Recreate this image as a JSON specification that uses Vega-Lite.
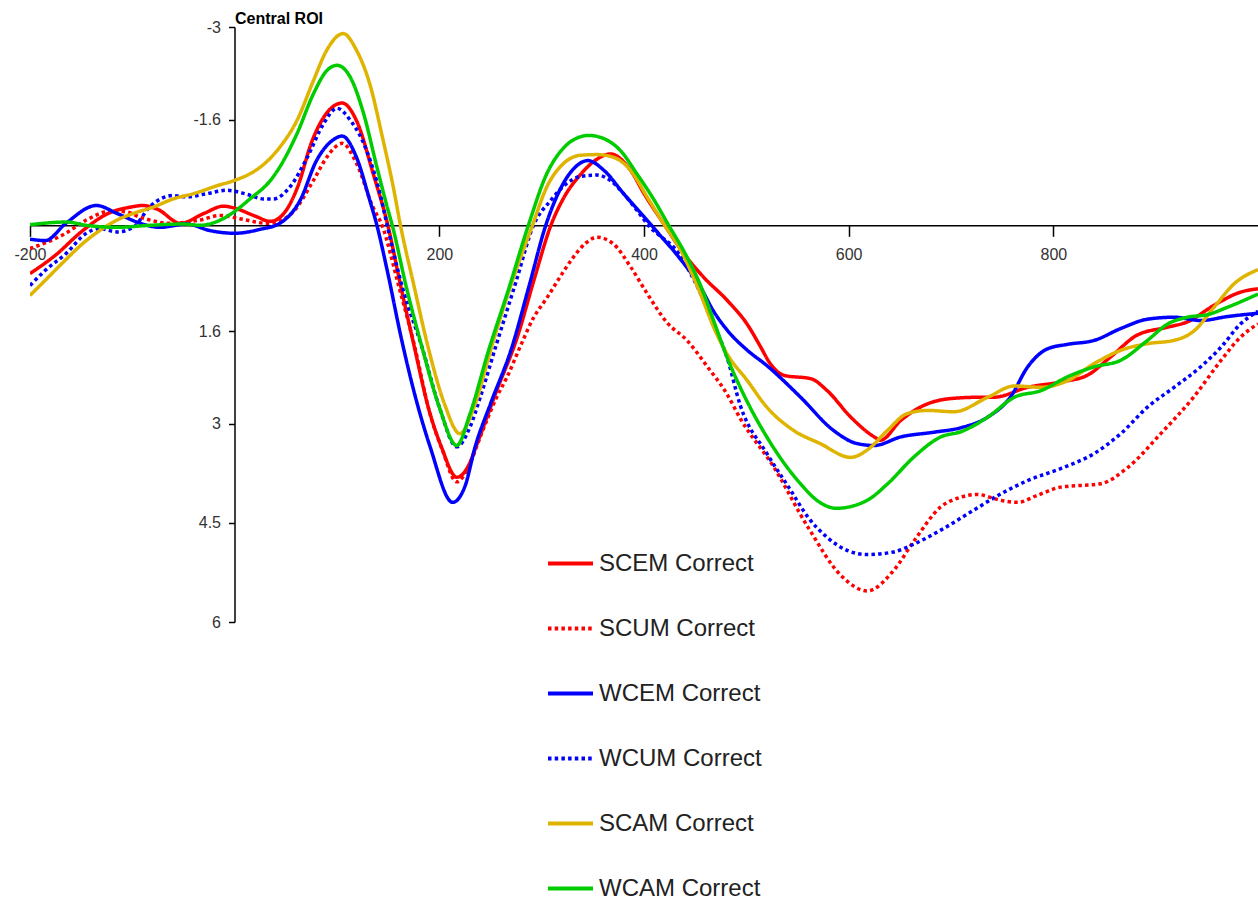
{
  "$schema": "https://vega.github.io/schema/vega-lite/v6.json",
  "width": 1228,
  "height": 595,
  "autosize": {"type": "none"},
  "padding": {"left": 30, "top": 27, "right": 0, "bottom": 279},
  "background": "white",
  "config": {"view": {"stroke": null}, "font": "Liberation Sans"},
  "datasets": {
    "erp": [
      {"c":"SCEM Correct","ms":-200,"uV":0.73},{"c":"SCEM Correct","ms":-175,"uV":0.45},{"c":"SCEM Correct","ms":-150,"uV":0.1},{"c":"SCEM Correct","ms":-125,"uV":-0.17},{"c":"SCEM Correct","ms":-100,"uV":-0.28},{"c":"SCEM Correct","ms":-90,"uV":-0.3},{"c":"SCEM Correct","ms":-75,"uV":-0.24},{"c":"SCEM Correct","ms":-53,"uV":-0.03},{"c":"SCEM Correct","ms":-30,"uV":-0.18},{"c":"SCEM Correct","ms":-11,"uV":-0.29},{"c":"SCEM Correct","ms":0,"uV":-0.26},{"c":"SCEM Correct","ms":20,"uV":-0.14},{"c":"SCEM Correct","ms":35,"uV":-0.06},{"c":"SCEM Correct","ms":50,"uV":-0.22},{"c":"SCEM Correct","ms":62,"uV":-0.6},{"c":"SCEM Correct","ms":75,"uV":-1.25},{"c":"SCEM Correct","ms":90,"uV":-1.7},{"c":"SCEM Correct","ms":105,"uV":-1.85},{"c":"SCEM Correct","ms":120,"uV":-1.55},{"c":"SCEM Correct","ms":135,"uV":-0.8},{"c":"SCEM Correct","ms":150,"uV":0.02},{"c":"SCEM Correct","ms":162,"uV":0.9},{"c":"SCEM Correct","ms":175,"uV":1.8},{"c":"SCEM Correct","ms":190,"uV":2.8},{"c":"SCEM Correct","ms":202,"uV":3.35},{"c":"SCEM Correct","ms":217,"uV":3.81},{"c":"SCEM Correct","ms":228,"uV":3.65},{"c":"SCEM Correct","ms":237,"uV":3.3},{"c":"SCEM Correct","ms":256,"uV":2.5},{"c":"SCEM Correct","ms":276,"uV":1.7},{"c":"SCEM Correct","ms":293,"uV":0.8},{"c":"SCEM Correct","ms":309,"uV":0.0},{"c":"SCEM Correct","ms":321,"uV":-0.4},{"c":"SCEM Correct","ms":338,"uV":-0.77},{"c":"SCEM Correct","ms":354,"uV":-1.0},{"c":"SCEM Correct","ms":367,"uV":-1.08},{"c":"SCEM Correct","ms":387,"uV":-0.83},{"c":"SCEM Correct","ms":400,"uV":-0.48},{"c":"SCEM Correct","ms":419,"uV":-0.03},{"c":"SCEM Correct","ms":439,"uV":0.43},{"c":"SCEM Correct","ms":458,"uV":0.78},{"c":"SCEM Correct","ms":481,"uV":1.13},{"c":"SCEM Correct","ms":501,"uV":1.5},{"c":"SCEM Correct","ms":514,"uV":1.84},{"c":"SCEM Correct","ms":522,"uV":2.06},{"c":"SCEM Correct","ms":537,"uV":2.27},{"c":"SCEM Correct","ms":563,"uV":2.32},{"c":"SCEM Correct","ms":579,"uV":2.5},{"c":"SCEM Correct","ms":602,"uV":2.9},{"c":"SCEM Correct","ms":625,"uV":3.2},{"c":"SCEM Correct","ms":631,"uV":3.25},{"c":"SCEM Correct","ms":651,"uV":2.95},{"c":"SCEM Correct","ms":670,"uV":2.75},{"c":"SCEM Correct","ms":700,"uV":2.62},{"c":"SCEM Correct","ms":729,"uV":2.6},{"c":"SCEM Correct","ms":742,"uV":2.6},{"c":"SCEM Correct","ms":775,"uV":2.45},{"c":"SCEM Correct","ms":807,"uV":2.37},{"c":"SCEM Correct","ms":833,"uV":2.27},{"c":"SCEM Correct","ms":856,"uV":1.99},{"c":"SCEM Correct","ms":882,"uV":1.66},{"c":"SCEM Correct","ms":912,"uV":1.54},{"c":"SCEM Correct","ms":931,"uV":1.46},{"c":"SCEM Correct","ms":957,"uV":1.21},{"c":"SCEM Correct","ms":983,"uV":1.01},{"c":"SCEM Correct","ms":1000,"uV":0.96},

      {"c":"SCUM Correct","ms":-200,"uV":0.35},{"c":"SCUM Correct","ms":-165,"uV":0.12},{"c":"SCUM Correct","ms":-145,"uV":-0.08},{"c":"SCUM Correct","ms":-120,"uV":-0.22},{"c":"SCUM Correct","ms":-105,"uV":-0.2},{"c":"SCUM Correct","ms":-92,"uV":-0.12},{"c":"SCUM Correct","ms":-80,"uV":-0.07},{"c":"SCUM Correct","ms":-66,"uV":-0.03},{"c":"SCUM Correct","ms":-34,"uV":-0.08},{"c":"SCUM Correct","ms":-14,"uV":-0.15},{"c":"SCUM Correct","ms":5,"uV":-0.1},{"c":"SCUM Correct","ms":32,"uV":-0.03},{"c":"SCUM Correct","ms":45,"uV":-0.07},{"c":"SCUM Correct","ms":57,"uV":-0.2},{"c":"SCUM Correct","ms":77,"uV":-0.68},{"c":"SCUM Correct","ms":90,"uV":-1.03},{"c":"SCUM Correct","ms":105,"uV":-1.24},{"c":"SCUM Correct","ms":119,"uV":-0.94},{"c":"SCUM Correct","ms":135,"uV":-0.28},{"c":"SCUM Correct","ms":144,"uV":0.0},{"c":"SCUM Correct","ms":160,"uV":0.9},{"c":"SCUM Correct","ms":176,"uV":1.84},{"c":"SCUM Correct","ms":190,"uV":2.8},{"c":"SCUM Correct","ms":203,"uV":3.4},{"c":"SCUM Correct","ms":217,"uV":3.88},{"c":"SCUM Correct","ms":230,"uV":3.6},{"c":"SCUM Correct","ms":240,"uV":3.2},{"c":"SCUM Correct","ms":256,"uV":2.6},{"c":"SCUM Correct","ms":266,"uV":2.3},{"c":"SCUM Correct","ms":280,"uV":1.8},{"c":"SCUM Correct","ms":292,"uV":1.4},{"c":"SCUM Correct","ms":305,"uV":1.1},{"c":"SCUM Correct","ms":318,"uV":0.78},{"c":"SCUM Correct","ms":331,"uV":0.48},{"c":"SCUM Correct","ms":343,"uV":0.27},{"c":"SCUM Correct","ms":354,"uV":0.18},{"c":"SCUM Correct","ms":370,"uV":0.28},{"c":"SCUM Correct","ms":387,"uV":0.63},{"c":"SCUM Correct","ms":403,"uV":1.03},{"c":"SCUM Correct","ms":423,"uV":1.48},{"c":"SCUM Correct","ms":442,"uV":1.74},{"c":"SCUM Correct","ms":462,"uV":2.14},{"c":"SCUM Correct","ms":481,"uV":2.55},{"c":"SCUM Correct","ms":494,"uV":2.92},{"c":"SCUM Correct","ms":527,"uV":3.66},{"c":"SCUM Correct","ms":560,"uV":4.56},{"c":"SCUM Correct","ms":594,"uV":5.32},{"c":"SCUM Correct","ms":618,"uV":5.53},{"c":"SCUM Correct","ms":644,"uV":5.22},{"c":"SCUM Correct","ms":664,"uV":4.77},{"c":"SCUM Correct","ms":690,"uV":4.26},{"c":"SCUM Correct","ms":710,"uV":4.11},{"c":"SCUM Correct","ms":725,"uV":4.07},{"c":"SCUM Correct","ms":749,"uV":4.16},{"c":"SCUM Correct","ms":765,"uV":4.19},{"c":"SCUM Correct","ms":785,"uV":4.08},{"c":"SCUM Correct","ms":807,"uV":3.96},{"c":"SCUM Correct","ms":846,"uV":3.91},{"c":"SCUM Correct","ms":873,"uV":3.66},{"c":"SCUM Correct","ms":905,"uV":3.15},{"c":"SCUM Correct","ms":937,"uV":2.6},{"c":"SCUM Correct","ms":964,"uV":2.04},{"c":"SCUM Correct","ms":983,"uV":1.69},{"c":"SCUM Correct","ms":1000,"uV":1.49},

      {"c":"WCEM Correct","ms":-200,"uV":0.21},{"c":"WCEM Correct","ms":-185,"uV":0.23},{"c":"WCEM Correct","ms":-165,"uV":-0.03},{"c":"WCEM Correct","ms":-135,"uV":-0.3},{"c":"WCEM Correct","ms":-115,"uV":-0.18},{"c":"WCEM Correct","ms":-92,"uV":-0.03},{"c":"WCEM Correct","ms":-73,"uV":0.03},{"c":"WCEM Correct","ms":-47,"uV":-0.02},{"c":"WCEM Correct","ms":-24,"uV":0.08},{"c":"WCEM Correct","ms":0,"uV":0.12},{"c":"WCEM Correct","ms":25,"uV":0.06},{"c":"WCEM Correct","ms":44,"uV":-0.03},{"c":"WCEM Correct","ms":64,"uV":-0.38},{"c":"WCEM Correct","ms":80,"uV":-0.98},{"c":"WCEM Correct","ms":96,"uV":-1.29},{"c":"WCEM Correct","ms":105,"uV":-1.35},{"c":"WCEM Correct","ms":119,"uV":-1.03},{"c":"WCEM Correct","ms":132,"uV":-0.38},{"c":"WCEM Correct","ms":139,"uV":0.0},{"c":"WCEM Correct","ms":150,"uV":0.75},{"c":"WCEM Correct","ms":162,"uV":1.65},{"c":"WCEM Correct","ms":175,"uV":2.5},{"c":"WCEM Correct","ms":191,"uV":3.35},{"c":"WCEM Correct","ms":213,"uV":4.19},{"c":"WCEM Correct","ms":225,"uV":3.95},{"c":"WCEM Correct","ms":235,"uV":3.35},{"c":"WCEM Correct","ms":250,"uV":2.7},{"c":"WCEM Correct","ms":271,"uV":1.84},{"c":"WCEM Correct","ms":288,"uV":0.9},{"c":"WCEM Correct","ms":304,"uV":0.0},{"c":"WCEM Correct","ms":321,"uV":-0.63},{"c":"WCEM Correct","ms":335,"uV":-0.91},{"c":"WCEM Correct","ms":345,"uV":-0.98},{"c":"WCEM Correct","ms":361,"uV":-0.83},{"c":"WCEM Correct","ms":380,"uV":-0.48},{"c":"WCEM Correct","ms":400,"uV":-0.13},{"c":"WCEM Correct","ms":414,"uV":0.12},{"c":"WCEM Correct","ms":434,"uV":0.48},{"c":"WCEM Correct","ms":455,"uV":0.93},{"c":"WCEM Correct","ms":468,"uV":1.3},{"c":"WCEM Correct","ms":481,"uV":1.58},{"c":"WCEM Correct","ms":501,"uV":1.89},{"c":"WCEM Correct","ms":520,"uV":2.12},{"c":"WCEM Correct","ms":553,"uV":2.6},{"c":"WCEM Correct","ms":585,"uV":3.1},{"c":"WCEM Correct","ms":608,"uV":3.3},{"c":"WCEM Correct","ms":625,"uV":3.33},{"c":"WCEM Correct","ms":651,"uV":3.2},{"c":"WCEM Correct","ms":683,"uV":3.13},{"c":"WCEM Correct","ms":710,"uV":3.06},{"c":"WCEM Correct","ms":736,"uV":2.9},{"c":"WCEM Correct","ms":758,"uV":2.6},{"c":"WCEM Correct","ms":775,"uV":2.14},{"c":"WCEM Correct","ms":794,"uV":1.87},{"c":"WCEM Correct","ms":814,"uV":1.8},{"c":"WCEM Correct","ms":840,"uV":1.74},{"c":"WCEM Correct","ms":866,"uV":1.56},{"c":"WCEM Correct","ms":892,"uV":1.42},{"c":"WCEM Correct","ms":918,"uV":1.39},{"c":"WCEM Correct","ms":944,"uV":1.44},{"c":"WCEM Correct","ms":970,"uV":1.38},{"c":"WCEM Correct","ms":1000,"uV":1.33},

      {"c":"WCUM Correct","ms":-200,"uV":0.91},{"c":"WCUM Correct","ms":-185,"uV":0.68},{"c":"WCUM Correct","ms":-165,"uV":0.43},{"c":"WCUM Correct","ms":-145,"uV":0.12},{"c":"WCUM Correct","ms":-132,"uV":0.05},{"c":"WCUM Correct","ms":-115,"uV":0.1},{"c":"WCUM Correct","ms":-99,"uV":0.03},{"c":"WCUM Correct","ms":-83,"uV":-0.28},{"c":"WCUM Correct","ms":-60,"uV":-0.45},{"c":"WCUM Correct","ms":-47,"uV":-0.43},{"c":"WCUM Correct","ms":-27,"uV":-0.48},{"c":"WCUM Correct","ms":-8,"uV":-0.53},{"c":"WCUM Correct","ms":12,"uV":-0.47},{"c":"WCUM Correct","ms":28,"uV":-0.4},{"c":"WCUM Correct","ms":38,"uV":-0.4},{"c":"WCUM Correct","ms":54,"uV":-0.58},{"c":"WCUM Correct","ms":71,"uV":-1.03},{"c":"WCUM Correct","ms":87,"uV":-1.54},{"c":"WCUM Correct","ms":100,"uV":-1.77},{"c":"WCUM Correct","ms":113,"uV":-1.59},{"c":"WCUM Correct","ms":129,"uV":-1.13},{"c":"WCUM Correct","ms":142,"uV":-0.48},{"c":"WCUM Correct","ms":149,"uV":0.0},{"c":"WCUM Correct","ms":165,"uV":1.0},{"c":"WCUM Correct","ms":183,"uV":1.84},{"c":"WCUM Correct","ms":200,"uV":2.75},{"c":"WCUM Correct","ms":217,"uV":3.35},{"c":"WCUM Correct","ms":230,"uV":3.05},{"c":"WCUM Correct","ms":240,"uV":2.6},{"c":"WCUM Correct","ms":255,"uV":1.84},{"c":"WCUM Correct","ms":275,"uV":0.85},{"c":"WCUM Correct","ms":292,"uV":0.0},{"c":"WCUM Correct","ms":309,"uV":-0.38},{"c":"WCUM Correct","ms":322,"uV":-0.6},{"c":"WCUM Correct","ms":338,"uV":-0.74},{"c":"WCUM Correct","ms":354,"uV":-0.76},{"c":"WCUM Correct","ms":367,"uV":-0.68},{"c":"WCUM Correct","ms":380,"uV":-0.48},{"c":"WCUM Correct","ms":393,"uV":-0.23},{"c":"WCUM Correct","ms":406,"uV":0.03},{"c":"WCUM Correct","ms":419,"uV":0.2},{"c":"WCUM Correct","ms":429,"uV":0.33},{"c":"WCUM Correct","ms":449,"uV":0.83},{"c":"WCUM Correct","ms":468,"uV":1.49},{"c":"WCUM Correct","ms":481,"uV":1.99},{"c":"WCUM Correct","ms":494,"uV":2.72},{"c":"WCUM Correct","ms":520,"uV":3.45},{"c":"WCUM Correct","ms":543,"uV":4.0},{"c":"WCUM Correct","ms":560,"uV":4.41},{"c":"WCUM Correct","ms":579,"uV":4.72},{"c":"WCUM Correct","ms":599,"uV":4.92},{"c":"WCUM Correct","ms":618,"uV":4.98},{"c":"WCUM Correct","ms":644,"uV":4.94},{"c":"WCUM Correct","ms":664,"uV":4.82},{"c":"WCUM Correct","ms":690,"uV":4.61},{"c":"WCUM Correct","ms":722,"uV":4.31},{"c":"WCUM Correct","ms":749,"uV":4.06},{"c":"WCUM Correct","ms":775,"uV":3.86},{"c":"WCUM Correct","ms":807,"uV":3.68},{"c":"WCUM Correct","ms":840,"uV":3.45},{"c":"WCUM Correct","ms":866,"uV":3.15},{"c":"WCUM Correct","ms":892,"uV":2.75},{"c":"WCUM Correct","ms":918,"uV":2.45},{"c":"WCUM Correct","ms":944,"uV":2.14},{"c":"WCUM Correct","ms":964,"uV":1.84},{"c":"WCUM Correct","ms":983,"uV":1.49},{"c":"WCUM Correct","ms":1000,"uV":1.3},

      {"c":"SCAM Correct","ms":-200,"uV":1.06},{"c":"SCAM Correct","ms":-185,"uV":0.83},{"c":"SCAM Correct","ms":-169,"uV":0.58},{"c":"SCAM Correct","ms":-145,"uV":0.23},{"c":"SCAM Correct","ms":-132,"uV":0.08},{"c":"SCAM Correct","ms":-115,"uV":-0.08},{"c":"SCAM Correct","ms":-99,"uV":-0.18},{"c":"SCAM Correct","ms":-79,"uV":-0.28},{"c":"SCAM Correct","ms":-60,"uV":-0.4},{"c":"SCAM Correct","ms":-40,"uV":-0.48},{"c":"SCAM Correct","ms":-17,"uV":-0.6},{"c":"SCAM Correct","ms":0,"uV":-0.68},{"c":"SCAM Correct","ms":15,"uV":-0.78},{"c":"SCAM Correct","ms":25,"uV":-0.88},{"c":"SCAM Correct","ms":44,"uV":-1.18},{"c":"SCAM Correct","ms":61,"uV":-1.59},{"c":"SCAM Correct","ms":77,"uV":-2.19},{"c":"SCAM Correct","ms":90,"uV":-2.65},{"c":"SCAM Correct","ms":106,"uV":-2.9},{"c":"SCAM Correct","ms":119,"uV":-2.65},{"c":"SCAM Correct","ms":132,"uV":-2.14},{"c":"SCAM Correct","ms":145,"uV":-1.29},{"c":"SCAM Correct","ms":155,"uV":-0.58},{"c":"SCAM Correct","ms":162,"uV":0.0},{"c":"SCAM Correct","ms":175,"uV":0.9},{"c":"SCAM Correct","ms":189,"uV":1.84},{"c":"SCAM Correct","ms":205,"uV":2.7},{"c":"SCAM Correct","ms":220,"uV":3.15},{"c":"SCAM Correct","ms":235,"uV":2.7},{"c":"SCAM Correct","ms":251,"uV":1.84},{"c":"SCAM Correct","ms":270,"uV":0.9},{"c":"SCAM Correct","ms":291,"uV":0.0},{"c":"SCAM Correct","ms":305,"uV":-0.58},{"c":"SCAM Correct","ms":321,"uV":-0.93},{"c":"SCAM Correct","ms":338,"uV":-1.06},{"c":"SCAM Correct","ms":354,"uV":-1.07},{"c":"SCAM Correct","ms":370,"uV":-1.03},{"c":"SCAM Correct","ms":387,"uV":-0.83},{"c":"SCAM Correct","ms":403,"uV":-0.43},{"c":"SCAM Correct","ms":419,"uV":-0.03},{"c":"SCAM Correct","ms":436,"uV":0.38},{"c":"SCAM Correct","ms":455,"uV":1.03},{"c":"SCAM Correct","ms":468,"uV":1.54},{"c":"SCAM Correct","ms":481,"uV":1.94},{"c":"SCAM Correct","ms":501,"uV":2.35},{"c":"SCAM Correct","ms":520,"uV":2.75},{"c":"SCAM Correct","ms":546,"uV":3.1},{"c":"SCAM Correct","ms":572,"uV":3.3},{"c":"SCAM Correct","ms":602,"uV":3.51},{"c":"SCAM Correct","ms":618,"uV":3.4},{"c":"SCAM Correct","ms":638,"uV":3.1},{"c":"SCAM Correct","ms":657,"uV":2.85},{"c":"SCAM Correct","ms":677,"uV":2.8},{"c":"SCAM Correct","ms":703,"uV":2.82},{"c":"SCAM Correct","ms":736,"uV":2.6},{"c":"SCAM Correct","ms":762,"uV":2.43},{"c":"SCAM Correct","ms":788,"uV":2.45},{"c":"SCAM Correct","ms":814,"uV":2.35},{"c":"SCAM Correct","ms":840,"uV":2.09},{"c":"SCAM Correct","ms":866,"uV":1.89},{"c":"SCAM Correct","ms":892,"uV":1.79},{"c":"SCAM Correct","ms":918,"uV":1.74},{"c":"SCAM Correct","ms":938,"uV":1.59},{"c":"SCAM Correct","ms":957,"uV":1.24},{"c":"SCAM Correct","ms":977,"uV":0.88},{"c":"SCAM Correct","ms":1000,"uV":0.67},

      {"c":"WCAM Correct","ms":-200,"uV":-0.01},{"c":"WCAM Correct","ms":-164,"uV":-0.05},{"c":"WCAM Correct","ms":-145,"uV":0.0},{"c":"WCAM Correct","ms":-115,"uV":0.03},{"c":"WCAM Correct","ms":-83,"uV":0.0},{"c":"WCAM Correct","ms":-50,"uV":-0.02},{"c":"WCAM Correct","ms":-34,"uV":0.0},{"c":"WCAM Correct","ms":-14,"uV":-0.08},{"c":"WCAM Correct","ms":-1,"uV":-0.2},{"c":"WCAM Correct","ms":15,"uV":-0.4},{"c":"WCAM Correct","ms":35,"uV":-0.68},{"c":"WCAM Correct","ms":44,"uV":-0.88},{"c":"WCAM Correct","ms":61,"uV":-1.39},{"c":"WCAM Correct","ms":77,"uV":-1.99},{"c":"WCAM Correct","ms":90,"uV":-2.34},{"c":"WCAM Correct","ms":100,"uV":-2.42},{"c":"WCAM Correct","ms":113,"uV":-2.24},{"c":"WCAM Correct","ms":126,"uV":-1.69},{"c":"WCAM Correct","ms":139,"uV":-0.88},{"c":"WCAM Correct","ms":149,"uV":-0.28},{"c":"WCAM Correct","ms":154,"uV":0.0},{"c":"WCAM Correct","ms":168,"uV":0.95},{"c":"WCAM Correct","ms":183,"uV":1.84},{"c":"WCAM Correct","ms":200,"uV":2.75},{"c":"WCAM Correct","ms":217,"uV":3.33},{"c":"WCAM Correct","ms":230,"uV":2.85},{"c":"WCAM Correct","ms":248,"uV":1.9},{"c":"WCAM Correct","ms":268,"uV":0.95},{"c":"WCAM Correct","ms":287,"uV":0.0},{"c":"WCAM Correct","ms":305,"uV":-0.78},{"c":"WCAM Correct","ms":322,"uV":-1.18},{"c":"WCAM Correct","ms":338,"uV":-1.34},{"c":"WCAM Correct","ms":346,"uV":-1.36},{"c":"WCAM Correct","ms":361,"uV":-1.31},{"c":"WCAM Correct","ms":377,"uV":-1.13},{"c":"WCAM Correct","ms":393,"uV":-0.78},{"c":"WCAM Correct","ms":410,"uV":-0.38},{"c":"WCAM Correct","ms":423,"uV":-0.03},{"c":"WCAM Correct","ms":442,"uV":0.48},{"c":"WCAM Correct","ms":455,"uV":0.9},{"c":"WCAM Correct","ms":468,"uV":1.44},{"c":"WCAM Correct","ms":481,"uV":1.99},{"c":"WCAM Correct","ms":494,"uV":2.45},{"c":"WCAM Correct","ms":507,"uV":2.85},{"c":"WCAM Correct","ms":520,"uV":3.2},{"c":"WCAM Correct","ms":537,"uV":3.6},{"c":"WCAM Correct","ms":553,"uV":3.91},{"c":"WCAM Correct","ms":569,"uV":4.16},{"c":"WCAM Correct","ms":588,"uV":4.28},{"c":"WCAM Correct","ms":618,"uV":4.16},{"c":"WCAM Correct","ms":638,"uV":3.91},{"c":"WCAM Correct","ms":664,"uV":3.5},{"c":"WCAM Correct","ms":690,"uV":3.2},{"c":"WCAM Correct","ms":710,"uV":3.12},{"c":"WCAM Correct","ms":736,"uV":2.9},{"c":"WCAM Correct","ms":762,"uV":2.6},{"c":"WCAM Correct","ms":788,"uV":2.5},{"c":"WCAM Correct","ms":814,"uV":2.29},{"c":"WCAM Correct","ms":840,"uV":2.14},{"c":"WCAM Correct","ms":866,"uV":2.04},{"c":"WCAM Correct","ms":892,"uV":1.74},{"c":"WCAM Correct","ms":912,"uV":1.49},{"c":"WCAM Correct","ms":931,"uV":1.39},{"c":"WCAM Correct","ms":951,"uV":1.35},{"c":"WCAM Correct","ms":970,"uV":1.24},{"c":"WCAM Correct","ms":1000,"uV":1.04}
    ]
  },
  "data": {"name": "erp"},
  "mark": {"type": "line", "interpolate": "monotone", "strokeWidth": 3.5, "clip": true},
  "encoding": {
    "x": {
      "field": "ms", "type": "quantitative",
      "scale": {"domain": [-200, 1000], "nice": false, "zero": false},
      "axis": {
        "orient": "bottom", "offset": -396.7, "values": [-200, 200, 400, 600, 800],
        "labelExpr": "'' + datum.value", "labelFlush": false, "labelOverlap": false,
        "title": null, "grid": false,
        "domainColor": "#000", "domainWidth": 1.5,
        "tickColor": "#000", "tickWidth": 1.5, "tickSize": 11,
        "labelFont": "Liberation Sans", "labelFontSize": 16, "labelColor": "#333", "labelPadding": 10
      }
    },
    "y": {
      "field": "uV", "type": "quantitative",
      "scale": {"domain": [-3, 6], "reverse": true, "nice": false, "zero": false},
      "axis": {
        "orient": "left", "offset": -204.5, "values": [-3, -1.6, 1.6, 3, 4.5, 6],
        "labelExpr": "'' + datum.value", "labelFlush": false, "labelOverlap": false,
        "grid": false,
        "domainColor": "#000", "domainWidth": 1.5,
        "tickColor": "#000", "tickWidth": 1.5, "tickSize": 6,
        "labelFont": "Liberation Sans", "labelFontSize": 16, "labelColor": "#333", "labelPadding": 8,
        "title": "Central ROI", "titleAngle": 0, "titleAlign": "left", "titleBaseline": "alphabetic",
        "titleX": 0, "titleY": -4, "titleFont": "Liberation Sans", "titleFontSize": 16, "titleFontWeight": "bold", "titleColor": "#000"
      }
    },
    "color": {
      "field": "c", "type": "nominal",
      "scale": {
        "domain": ["SCEM Correct", "SCUM Correct", "WCEM Correct", "WCUM Correct", "SCAM Correct", "WCAM Correct"],
        "range": ["#ff0000", "#ff0000", "#0000ff", "#0000ff", "#dfb400", "#00cc00"]
      },
      "legend": {
        "orient": "none", "legendX": 516, "legendY": 512, "title": null, "padding": 0,
        "symbolType": "stroke", "symbolSize": 2025, "symbolStrokeWidth": 4,
        "labelFont": "Liberation Sans", "labelFontSize": 24, "labelColor": "#222", "labelLimit": 400,
        "labelOffset": 4, "rowPadding": 28
      }
    },
    "strokeDash": {
      "field": "c", "type": "nominal",
      "scale": {
        "domain": ["SCEM Correct", "SCUM Correct", "WCEM Correct", "WCUM Correct", "SCAM Correct", "WCAM Correct"],
        "range": [[1, 0], [3.5, 3.2], [1, 0], [3.5, 3.2], [1, 0], [1, 0]]
      },
      "legend": {
        "orient": "none", "legendX": 516, "legendY": 512, "title": null, "padding": 0,
        "symbolType": "stroke", "symbolSize": 2025, "symbolStrokeWidth": 4,
        "labelFont": "Liberation Sans", "labelFontSize": 24, "labelColor": "#222", "labelLimit": 400,
        "labelOffset": 4, "rowPadding": 28
      }
    }
  }
}
